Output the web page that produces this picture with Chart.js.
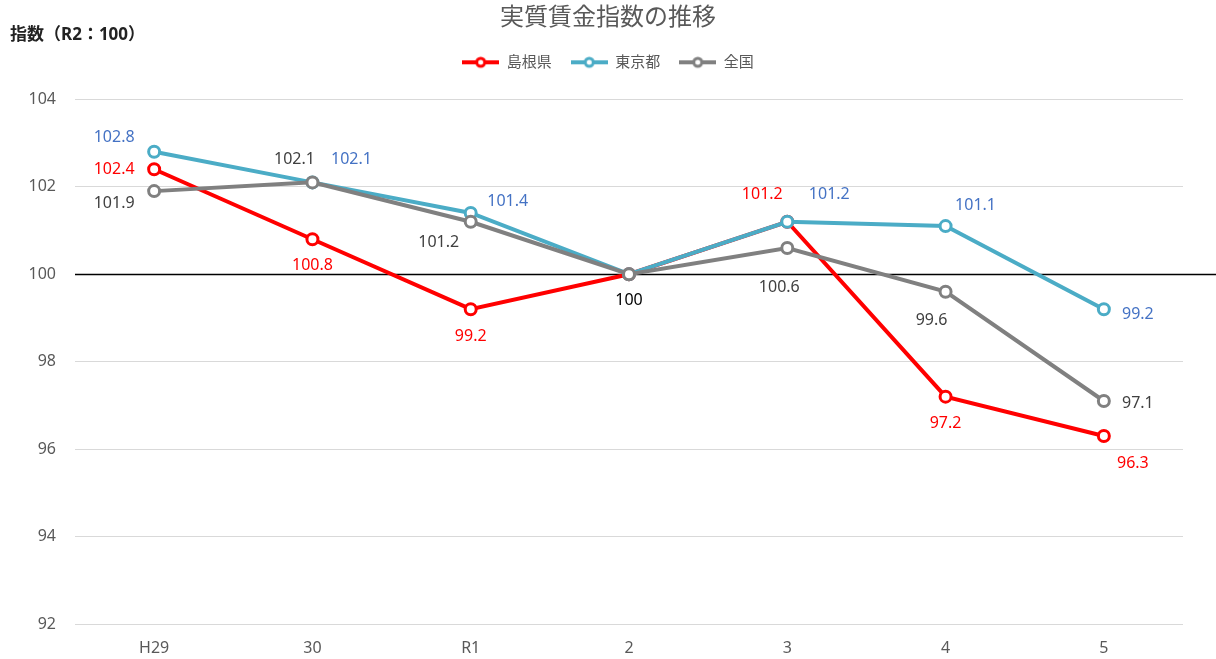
<!DOCTYPE html>
<html>
<head>
<meta charset="utf-8">
<script src="https://cdn.jsdelivr.net/npm/chart.js@4.4.1/dist/chart.umd.min.js"></script>
<style>
  html, body { margin: 0; padding: 0; background: #fff; }
  #wrap { width: 1216px; height: 659px; }
</style>
</head>
<body>
<div id="wrap"><canvas id="chart"></canvas></div>
<script>
const FONT = "'Noto Sans', 'Noto Sans CJK JP', sans-serif";

const years = ["H29", "30", "R1", "2", "3", "4", "5"];
const shimane = [102.4, 100.8, 99.2, 100, 101.2, 97.2, 96.3];
const tokyo = [102.8, 102.1, 101.4, 100, 101.2, 101.1, 99.2];
const zenkoku = [101.9, 102.1, 101.2, 100, 100.6, 99.6, 97.1];
const yTicks = [92, 94, 96, 98, 100, 102, 104];

// where each value label sits relative to its point [dx, dy]; null = no label
const shimaneLabelPos = [[-40, 0], [0, 26], [0, 27], null, [-25, -27], [0, 27], [29, 27]];
const tokyoLabelPos = [[-40, -14], [39, -23], [37, -12], null, [42, -27], [30, -21], [34, 5]];
const zenkokuLabelPos = [[-40, 12], [-18, -23], [-32, 21], [0, 26], [-8, 39], [-14, 29], [34, 2]];

function legendIcon(color) {
  const c = document.createElement("canvas");
  c.width = 37; c.height = 14;
  const g = c.getContext("2d");
  g.strokeStyle = color;
  g.lineWidth = 4;
  g.beginPath(); g.moveTo(0, 7); g.lineTo(37, 7); g.stroke();
  g.lineWidth = 3;
  g.fillStyle = "#fff";
  g.beginPath(); g.arc(18.5, 7, 4, 0, Math.PI * 2); g.fill(); g.stroke();
  return c;
}

function series(label, data, color, labelColor, labelPos, order) {
  return {
    label, data, order,
    borderColor: color,
    backgroundColor: color,
    borderWidth: 4,
    pointRadius: 5.5,
    pointHoverRadius: 5.5,
    pointBorderWidth: 3,
    pointBackgroundColor: "#fff",
    pointBorderColor: color,
    tension: 0,
    labelColor, labelPos,
    legendIcon: legendIcon(color)
  };
}

// black reference line at 100, running out to the right edge
const baseLine = {
  id: "baseLine",
  beforeDatasetsDraw(chart) {
    const { ctx, chartArea, scales } = chart;
    const y = Math.round(scales.y.getPixelForValue(100)) + 0.5;
    ctx.save();
    ctx.strokeStyle = "#000";
    ctx.lineWidth = 1.5;
    ctx.beginPath();
    ctx.moveTo(chartArea.left, y);
    ctx.lineTo(chart.width, y);
    ctx.stroke();
    ctx.restore();
  }
};

const valueLabels = {
  id: "valueLabels",
  afterDatasetsDraw(chart) {
    const ctx = chart.ctx;
    ctx.save();
    ctx.font = "16px " + FONT;
    ctx.textAlign = "center";
    ctx.textBaseline = "middle";
    chart.data.datasets.forEach((ds, di) => {
      const meta = chart.getDatasetMeta(di);
      meta.data.forEach((pt, i) => {
        const pos = ds.labelPos[i];
        if (!pos) return;
        const v = ds.data[i];
        ctx.fillStyle = v === 100 ? "#000" : ds.labelColor;
        ctx.fillText(String(v), pt.x + pos[0], pt.y + pos[1]);
      });
    });
    ctx.restore();
  }
};

const axisTitle = {
  id: "axisTitle",
  afterDraw(chart) {
    const ctx = chart.ctx;
    ctx.save();
    ctx.font = "bold 17px " + FONT;
    ctx.fillStyle = "#222";
    ctx.textAlign = "left";
    ctx.textBaseline = "middle";
    ctx.fillText("指数（R2：100）", 10, 35);
    ctx.restore();
  }
};

// extra room under the legend
const legendGap = {
  id: "legendGap",
  beforeInit(chart) {
    const lg = chart.legend;
    const fit = lg.fit;
    lg.fit = function () { fit.call(this); this.height += 19.5; };
  }
};

new Chart(document.getElementById("chart"), {
  type: "line",
  data: {
    labels: years,
    datasets: [
      series("島根県", shimane, "#FF0000", "#FF0000", shimaneLabelPos, 2),
      series("東京都", tokyo, "#4BACC6", "#4472C4", tokyoLabelPos, 1),
      series("全国", zenkoku, "#808080", "#404040", zenkokuLabelPos, 0)
    ]
  },
  options: {
    responsive: true,
    maintainAspectRatio: false,
    animation: false,
    events: [],
    layout: { padding: { left: 0, right: 0, top: 0, bottom: 1 } },
    plugins: {
      tooltip: { enabled: false },
      title: {
        display: true,
        text: "実質賃金指数の推移",
        color: "#595959",
        font: { family: FONT, size: 24, weight: "normal" },
        padding: { top: 4, bottom: 3 }
      },
      legend: {
        display: true,
        position: "top",
        labels: {
          color: "#595959",
          font: { family: FONT, size: 15 },
          usePointStyle: true,
          pointStyleWidth: 37,
          padding: 19,
          sort: (a, b) => a.datasetIndex - b.datasetIndex,
          generateLabels(chart) {
            const items = Chart.defaults.plugins.legend.labels.generateLabels(chart);
            return items.map(it => {
              it.pointStyle = chart.data.datasets[it.datasetIndex].legendIcon;
              return it;
            });
          }
        }
      }
    },
    scales: {
      x: {
        offset: true,
        afterFit(scale) { scale.height = 34; },
        grid: { display: false, drawTicks: false },
        border: { display: false },
        ticks: { color: "#595959", font: { family: FONT, size: 16 }, padding: 15 }
      },
      y: {
        min: yTicks[0],
        max: yTicks[yTicks.length - 1],
        afterBuildTicks(scale) { scale.ticks = yTicks.map(v => ({ value: v })); },
        afterFit(scale) { scale.width = 75; },
        grid: { color: "#D9D9D9", lineWidth: 1, drawTicks: false },
        border: { display: false },
        ticks: { color: "#595959", font: { family: FONT, size: 16 }, padding: 19 }
      },
      // empty strip on the right so the plot ends short of the edge
      yRight: {
        position: "right",
        afterFit(scale) { scale.width = 33; },
        grid: { display: false, drawTicks: false },
        border: { display: false },
        ticks: { display: false }
      }
    }
  },
  plugins: [legendGap, baseLine, valueLabels, axisTitle]
});
</script>
</body>
</html>
